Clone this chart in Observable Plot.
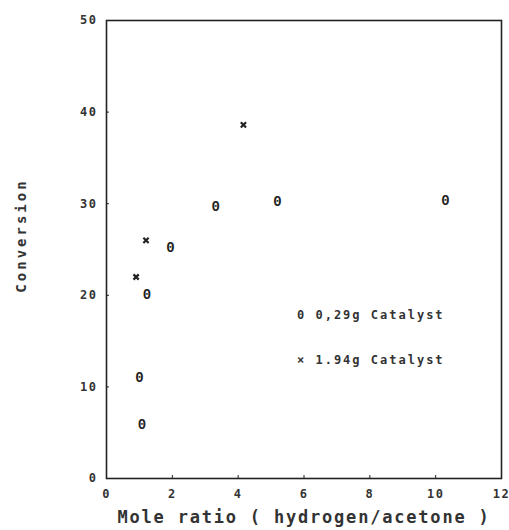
<!DOCTYPE html>
<html>
<head>
<meta charset="utf-8">
<script src="https://cdn.jsdelivr.net/npm/d3@7"></script>
<script src="https://cdn.jsdelivr.net/npm/@observablehq/plot@0.6"></script>
<style>
  html, body { margin: 0; padding: 0; background: #fff; }
  #wrap { position: relative; width: 509px; height: 530px; }
  .legend { position: absolute; font-family: "DejaVu Sans Mono", monospace; font-size: 12px; font-weight: bold; color: #333; letter-spacing: 2px; white-space: nowrap; }
</style>
</head>
<body>
<div id="wrap"></div>
<script>
// Series: 0.29g Catalyst (drawn with "0" marker)
const ratioLow = [1.08, 1.0, 1.23, 1.94, 3.32, 5.19, 10.3];
const convLow  = [5.9, 11.0, 20.1, 25.2, 29.7, 30.2, 30.4];
// Series: 1.94g Catalyst (drawn with "x" marker)
const ratioHigh = [0.9, 1.2, 4.16];
const convHigh  = [22.0, 26.0, 38.6];
// Axis ticks & labels
const xTicks = [0, 2, 4, 6, 8, 10, 12];
const yTicks = [0, 10, 20, 30, 40, 50];
const xLabel = "Mole ratio ( hydrogen/acetone )";
const yLabel = "Conversion";
const legendLabels = ["0 0,29g Catalyst", "\u00d7 1.94g Catalyst"];

const low = ratioLow.map((x, i) => ({x, y: convLow[i]}));
const high = ratioHigh.map((x, i) => ({x, y: convHigh[i]}));

const font = "'DejaVu Sans Mono', monospace";
const chart = Plot.plot({
  width: 509,
  height: 530,
  marginLeft: 106,
  marginRight: 8,
  marginTop: 20,
  marginBottom: 52,
  style: {fontFamily: font, fontSize: "12px", color: "#333", background: "#fff"},
  x: {domain: [0, 12], ticks: xTicks},
  y: {domain: [0, 50], ticks: yTicks},
  marks: [
    Plot.frame({stroke: "#222", strokeWidth: 1.6}),
    Plot.axisX({ticks: xTicks, tickSize: -3, tickPadding: 14, label: null, fontSize: 12, fontWeight: "bold", stroke: "#222", className: "tl"}),
    Plot.axisY({ticks: yTicks, tickSize: -3, tickPadding: 12, label: null, fontSize: 12, fontWeight: "bold", stroke: "#222", className: "tl"}),
    Plot.text([xLabel], {text: d => d, frameAnchor: "bottom", dy: 44, dx: 0, fontSize: 17, fontWeight: "bold", fill: "#333", className: "xlab"}),
    Plot.text([yLabel], {text: d => d, frameAnchor: "left", textAnchor: "middle", rotate: -90, dx: -85, dy: -14, fontSize: 14, fontWeight: "bold", fill: "#333", className: "ylab"}),
    Plot.text(low, {x: "x", y: "y", text: () => "0", fontSize: 14, fontFamily: "'Liberation Mono', monospace", fontWeight: "bold", fill: "#222"}),
    Plot.dot(high, {x: "x", y: "y", symbol: "times", r: 2.5, stroke: "#222", strokeWidth: 2.2})
  ]
});
d3.select(chart).selectAll(".xlab text").attr("letter-spacing", "1.8px");
d3.select(chart).selectAll(".ylab text").attr("letter-spacing", "3px");
d3.select(chart).selectAll(".tl text").attr("letter-spacing", "1.5px");
const wrap = document.getElementById("wrap");
wrap.appendChild(chart);
const pos = [[297, 308], [297, 353]];
legendLabels.forEach((t, i) => {
  const d = document.createElement("div");
  d.className = "legend";
  d.textContent = t;
  d.style.left = pos[i][0] + "px";
  d.style.top = pos[i][1] + "px";
  wrap.appendChild(d);
});
</script>
</body>
</html>
